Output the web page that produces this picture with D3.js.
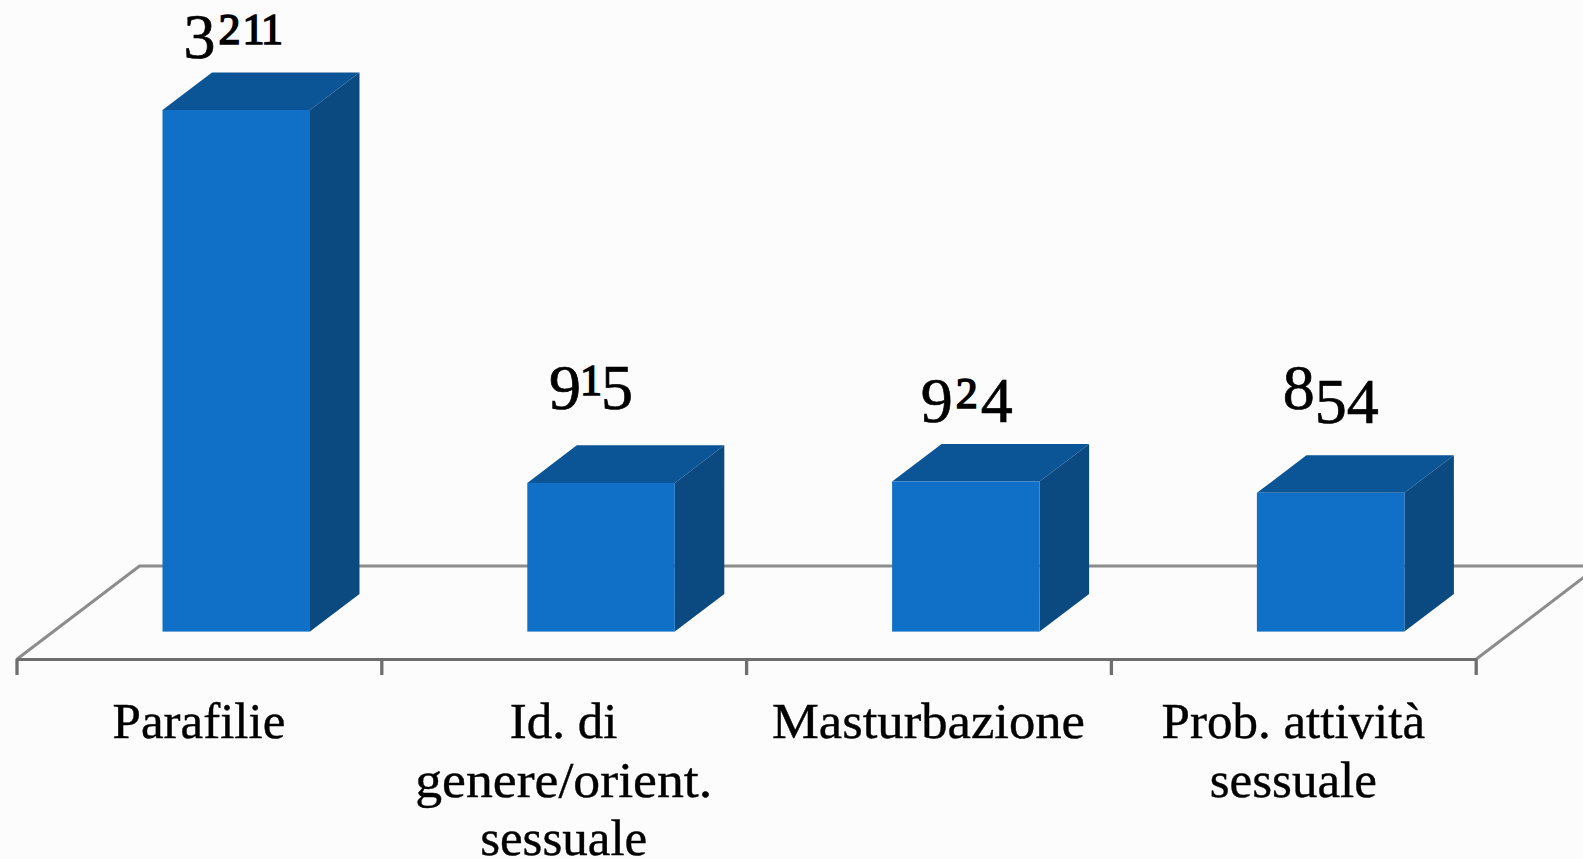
<!DOCTYPE html>
<html><head><meta charset="utf-8">
<script src="https://cdn.jsdelivr.net/npm/d3@7"></script>
<style>html,body{margin:0;padding:0;background:#fcfcfc;overflow:hidden}svg{display:block}</style>
</head><body><svg id="c" width="1583" height="859"></svg>
<script>
const categories = ["Parafilie", "Id. di genere/orient. sessuale", "Masturbazione", "Prob. attività sessuale"];
const categoryLines = [["Parafilie"], ["Id. di", "genere/orient.", "sessuale"], ["Masturbazione"], ["Prob. attività", "sessuale"]];
const values = [3211, 915, 924, 854];
const labelDx = [-3, -10, 1, 0];
const labelDy = [-66, -88, -74, -84];
const lineFit = {"genere/orient.": 297, "Masturbazione": 313};

const svg = d3.select("#c");
const plot = {left: 16.5, right: 1475.7, floor: 659.5, base: 631.6};
const depth = {x: 49.5, y: 37.6, fx: 123, fy: 93.5};
const barW = 147.5, barOff = 146;

const band = d3.scaleBand().domain(categories).range([plot.left, plot.right]);
const idx = d3.scaleLinear().domain([0, categories.length]).range([plot.left, plot.right]);
const y = d3.scaleLinear().domain([0, 3211]).range([plot.base, 110]);

// floor
svg.append("path").attr("d", d3.line()([[plot.left, plot.floor],[plot.left+depth.fx, plot.floor-depth.fy],[plot.right+depth.fx, plot.floor-depth.fy],[plot.right, plot.floor]]))
  .attr("fill","none").attr("stroke","#8c8c8c").attr("stroke-width",3);
// axis
const ax = svg.append("g").attr("transform",`translate(0,${plot.floor-0.5})`)
  .call(d3.axisBottom(idx).tickValues(d3.range(categories.length+1)).tickFormat("").tickSizeInner(16).tickSizeOuter(0));
ax.selectAll("path").attr("stroke","#6e6e6e").attr("stroke-width",3);
ax.selectAll("line").attr("stroke","#6e6e6e").attr("stroke-width",3.3);

// bars
const bars = svg.append("g").selectAll("g").data(categories).join("g");
const bx = c => band(c) + barOff;
bars.append("polygon").attr("fill","#0b5597")
  .attr("points",(c,i)=>{const x=bx(c),t=y(values[i]);return [[x,t],[x+depth.x,t-depth.y],[x+barW+depth.x,t-depth.y],[x+barW,t]].join(" ")});
bars.append("polygon").attr("fill","#0a4a80")
  .attr("points",(c,i)=>{const x=bx(c)+barW,t=y(values[i]);return [[x,t],[x+depth.x,t-depth.y],[x+depth.x,y(0)-depth.y],[x,y(0)]].join(" ")});
bars.append("rect").attr("fill","#106fc6")
  .attr("x",bx).attr("width",barW).attr("y",(c,i)=>y(values[i])).attr("height",(c,i)=>y(0)-y(values[i]));

// value labels with old-style figures
const smallDigits = "012";
const drop = "34579";
const labels = svg.append("g").selectAll("text").data(values).join("text")
  .attr("font-family","'Liberation Serif',serif").attr("fill","#000").attr("stroke","#000")
  .attr("text-anchor","middle")
  .attr("x",(v,i)=>bx(categories[i])+barW/2+labelDx[i]).attr("y",(v,i)=>y(v)+labelDy[i]);
labels.each(function(v){
  const t=d3.select(this); let prev=0, pad=0;
  String(v).split("").forEach(ch=>{
    const shift = drop.includes(ch)?14:0;
    const own = ch==="2"?3:(ch==="1"?-1:0);
    const isSmall = smallDigits.includes(ch);
    t.append("tspan").attr("font-size",isSmall?44:64).attr("stroke-width",isSmall?1.6:0.7)
      .attr("dy",shift-prev).attr("dx",pad+own).text(ch);
    prev=shift; pad=own;
  });
});

// category labels
svg.append("g").selectAll("text").data(categories).join("text")
  .attr("font-family","'Liberation Serif',serif").attr("font-size",51).attr("fill","#000").attr("stroke","#000").attr("stroke-width",0.4).attr("text-anchor","middle")
  .attr("transform",c=>`translate(${band(c)+band.bandwidth()/2},738)`)
  .each(function(c,i){
    d3.select(this).selectAll("tspan").data(categoryLines[i]).join("tspan")
      .attr("x",0).attr("y",(d,j)=>j*58.5).text(d=>d)
      .each(function(d){ if(lineFit[d]) d3.select(this).attr("textLength",lineFit[d]).attr("lengthAdjust","spacingAndGlyphs"); });
  });
</script></body></html>
